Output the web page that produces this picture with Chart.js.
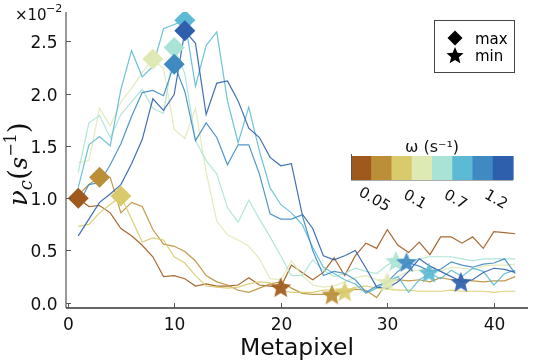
<!DOCTYPE html>
<html>
<head>
<meta charset="utf-8">
<script src="https://cdn.jsdelivr.net/npm/chart.js"></script>
<style>
  html, body { margin: 0; padding: 0; background: #fff; }
  #wrap { width: 540px; height: 360px; }
</style>
</head>
<body>
<div id="wrap"><canvas id="plot" width="540" height="360"></canvas></div>
<script>
// metapixel index (x) shared by all series
const metapixels = [1, 2, 3, 4, 5, 6, 7, 8, 9, 10, 11, 12, 13, 14, 15, 16, 17, 18, 19, 20, 21,
    22, 23, 24, 25, 26, 27, 28, 29, 30, 31, 32, 33, 34, 35, 36, 37, 38, 39, 40, 41, 42];

// nu_c in units of 1e-2 s^-1, one list per omega bin (slow -> fast)
const nuBrown = [1.00, 0.92, 0.93, 0.86, 0.71, 0.64, 0.55, 0.44, 0.25, 0.26, 0.23, 0.16, 0.18, 0.16, 0.16, 0.17, 0.24, 0.17, 0.16, 0.15, 0.36,
    0.29, 0.22, 0.29, 0.43, 0.26, 0.45, 0.57, 0.52, 0.70, 0.55, 0.48, 0.58, 0.46, 0.63, 0.63, 0.57, 0.63, 0.52, 0.68, 0.67, 0.66];
const nuTan = [1.03, 1.13, 1.20, 1.20, 0.86, 0.96, 0.92, 0.70, 0.56, 0.54, 0.49, 0.40, 0.26, 0.20, 0.17, 0.12, 0.10, 0.14, 0.18, 0.20, 0.14,
    0.09, 0.08, 0.08, 0.08, 0.10, 0.13, 0.12, 0.05, 0.20, 0.22, 0.21, 0.22, 0.20, 0.24, 0.22, 0.22, 0.21, 0.20, 0.21, 0.21, 0.25];
const nuYellow = [0.73, 0.75, 0.86, 0.94, 1.02, 0.80, 0.58, 0.62, 0.60, 0.44, 0.38, 0.26, 0.16, 0.15, 0.14, 0.15, 0.18, 0.20, 0.19, 0.12, 0.10,
    0.10, 0.10, 0.12, 0.12, 0.11, 0.15, 0.16, 0.14, 0.13, 0.12, 0.12, 0.11, 0.11, 0.11, 0.12, 0.11, 0.11, 0.11, 0.10, 0.11, 0.11];
const nuPale = [1.34, 1.36, 1.86, 1.69, 1.92, 2.05, 2.20, 2.33, 2.24, 1.66, 1.57, 1.86, 1.25, 0.78, 0.65, 0.60, 0.54, 0.42, 0.23, 0.22, 0.40,
    0.26, 0.17, 0.15, 0.16, 0.20, 0.24, 0.26, 0.22, 0.20, 0.25, 0.30, 0.31, 0.33, 0.30, 0.34, 0.33, 0.32, 0.35, 0.36, 0.36, 0.37];
const nuMint = [1.25, 1.72, 1.79, 1.58, 1.80, 1.92, 2.04, 1.86, 1.81, 2.44, 2.19, 1.55, 1.36, 1.23, 0.91, 0.77, 0.98, 0.80, 0.63, 0.45, 0.26,
    0.26, 0.41, 0.31, 0.25, 0.28, 0.33, 0.30, 0.28, 0.36, 0.42, 0.40, 0.42, 0.44, 0.44, 0.44, 0.42, 0.40, 0.42, 0.42, 0.42, 0.42];
const nuSky = [1.10, 1.51, 1.59, 1.50, 2.04, 2.41, 2.16, 2.26, 2.62, 2.66, 2.70, 2.07, 2.46, 2.59, 1.93, 1.53, 1.87, 1.45, 1.10, 0.94, 0.86,
    0.75, 0.53, 0.34, 0.28, 0.22, 0.18, 0.09, 0.14, 0.20, 0.25, 0.10, 0.22, 0.28, 0.23, 0.31, 0.25, 0.33, 0.30, 0.17, 0.28, 0.31];
const nuBlue = [0.94, 1.13, 1.15, 1.32, 1.52, 1.78, 2.01, 2.03, 1.98, 2.28, 2.02, 1.55, 1.72, 1.58, 1.32, 1.51, 1.51, 1.23, 0.85, 0.80, 0.80,
    0.84, 0.50, 0.26, 0.30, 0.28, 0.22, 0.10, 0.16, 0.20, 0.30, 0.38, 0.35, 0.30, 0.32, 0.39, 0.36, 0.34, 0.37, 0.38, 0.42, 0.28];
const nuNavy = [0.64, 0.80, 0.96, 1.04, 1.13, 1.33, 1.56, 1.95, 1.84, 1.99, 2.60, 2.48, 1.80, 2.10, 2.12, 1.93, 1.67, 1.58, 1.39, 1.31, 1.33,
    0.85, 0.71, 0.45, 0.41, 0.45, 0.50, 0.33, 0.15, 0.14, 0.20, 0.30, 0.42, 0.35, 0.30, 0.25, 0.20, 0.22, 0.29, 0.33, 0.32, 0.29];

// max / min markers per series
const maxX = [1, 3, 5, 8, 10, 11, 10, 11];
const maxY = [1.00, 1.20, 1.02, 2.33, 2.44, 2.70, 2.28, 2.60];
const minX = [20, 24.8, 26, 30, 30.8, 33.9, 31.8, 36.9];
const minY = [0.15, 0.08, 0.11, 0.20, 0.40, 0.29, 0.39, 0.20];

const xTicks = [0, 10, 20, 30, 40];
const yTicks = [0, 0.5, 1.0, 1.5, 2.0, 2.5];
const omegaTickLabels = ["0.05", "0.1", "0.7", "1.2"];

const colors = ["#A0591C", "#BA8F37", "#D9CB6B", "#DFE9B4", "#A9E3D5", "#5DBAD4", "#3F8AC3", "#2E5FAD"];
const series = [nuBrown, nuTan, nuYellow, nuPale, nuMint, nuSky, nuBlue, nuNavy];

function starImage(color, r) {
    const c = document.createElement("canvas");
    const s = Math.ceil(r * 2 + 2);
    c.width = s; c.height = s;
    const g = c.getContext("2d");
    g.fillStyle = color;
    g.beginPath();
    for (let k = 0; k < 10; k++) {
        const rr = k % 2 ? r * 0.45 : r;
        const a = -Math.PI / 2 + k * Math.PI / 5;
        g.lineTo(s / 2 + rr * Math.cos(a), s / 2 + 1 + rr * Math.sin(a));
    }
    g.closePath();
    g.fill();
    return c;
}

function withAlpha(hex, a) {
    const n = parseInt(hex.slice(1), 16);
    return `rgba(${n >> 16},${(n >> 8) & 255},${n & 255},${a})`;
}

const lineSets = series.map((vals, i) => ({
    type: "line",
    data: vals.map((v, k) => ({ x: metapixels[k], y: v })),
    borderColor: withAlpha(colors[i], 0.9),
    borderWidth: 1.2,
    pointRadius: 0,
    tension: 0,
    order: 10 - i,
}));

const diamondSet = {
    type: "scatter",
    data: maxX.map((x, i) => ({ x: x, y: maxY[i] })),
    pointStyle: "rectRot",
    pointRadius: 10.5,
    pointBackgroundColor: colors,
    pointBorderWidth: 0,
    borderWidth: 0,
    order: 0,
};

const starSet = {
    type: "scatter",
    data: minX.map((x, i) => ({ x: x, y: minY[i] })),
    pointStyle: colors.map(c => starImage(withAlpha(c, 0.92), 11)),
    pointRadius: 11,
    order: 0,
};

const decor = {
    id: "decor",
    afterDraw(chart) {
        const ctx = chart.ctx;
        const a = chart.chartArea;
        const xs = chart.scales.x, ys = chart.scales.y;
        ctx.save();

        // spines
        ctx.lineWidth = 1.5;
        ctx.strokeStyle = "#777";
        ctx.beginPath(); ctx.moveTo(a.left, a.top); ctx.lineTo(a.left, a.bottom); ctx.stroke();
        ctx.strokeStyle = "#333";
        ctx.beginPath(); ctx.moveTo(a.left, a.bottom); ctx.lineTo(a.right, a.bottom); ctx.stroke();

        // inward ticks + tick labels
        ctx.lineWidth = 1;
        ctx.strokeStyle = "#555";
        ctx.fillStyle = "#111";
        ctx.font = '17px "DejaVu Sans"';
        ctx.textBaseline = "alphabetic";
        ctx.textAlign = "center";
        xTicks.forEach(v => {
            const px = Math.round(xs.getPixelForValue(v)) + 0.5;
            ctx.beginPath(); ctx.moveTo(px, a.bottom); ctx.lineTo(px, a.bottom - 5); ctx.stroke();
            ctx.fillText(String(v), px, 329.5);
        });
        ctx.textAlign = "right";
        yTicks.forEach(v => {
            const py = Math.round(ys.getPixelForValue(v)) + 0.5;
            ctx.beginPath(); ctx.moveTo(a.left, py); ctx.lineTo(a.left + 5, py); ctx.stroke();
            ctx.fillText(v.toFixed(1), 57.5, py + 6.5);
        });

        // exponent
        ctx.textAlign = "left";
        ctx.font = '15px "DejaVu Sans"';
        ctx.fillText("×10", 15, 20);
        ctx.font = '11px "DejaVu Sans"';
        ctx.fillText("−2", 46, 12);

        // y title
        const parts = [
            { t: "ν", f: 'italic 26px "DejaVu Serif"', dy: 0 },
            { t: "c", f: 'italic 18px "DejaVu Serif"', dy: 5 },
            { t: "(", f: '28px "DejaVu Serif"', dy: 1 },
            { t: "s", f: 'italic 24px "DejaVu Serif"', dy: 0 },
            { t: "−1", f: '16px "DejaVu Serif"', dy: -11 },
            { t: ")", f: '28px "DejaVu Serif"', dy: 1 },
        ];
        ctx.save();
        ctx.translate(27, 206);
        ctx.rotate(-Math.PI / 2);
        let tx = 0;
        parts.forEach(p => {
            ctx.font = p.f;
            ctx.fillText(p.t, tx, p.dy);
            tx += ctx.measureText(p.t).width;
        });
        ctx.restore();

        // x title
        ctx.textAlign = "center";
        ctx.font = '23.5px "DejaVu Sans"';
        ctx.fillText("Metapixel", (a.left + a.right) / 2, 355);

        // legend box
        ctx.lineWidth = 1;
        ctx.strokeStyle = "#444";
        ctx.strokeRect(434.5, 20.5, 80, 52);
        ctx.fillStyle = "#000";
        ctx.beginPath();
        ctx.moveTo(455, 30.5); ctx.lineTo(462.5, 38); ctx.lineTo(455, 45.5); ctx.lineTo(447.5, 38);
        ctx.closePath(); ctx.fill();
        ctx.drawImage(starImage("#000", 9), 455 - 10, 55 - 10);
        ctx.textAlign = "left";
        ctx.font = '15px "DejaVu Sans"';
        ctx.fillText("max", 475, 44);
        ctx.fillText("min", 475, 61);

        // colorbar
        const cbX = 351, cbY = 156, cbW = 162, cbH = 24;
        const cw = cbW / colors.length;
        colors.forEach((c, i) => {
            ctx.fillStyle = c;
            ctx.fillRect(cbX + i * cw, cbY, cw + 0.6, cbH);
        });
        ctx.strokeStyle = "#555";
        ctx.beginPath(); ctx.moveTo(cbX + 0.5, cbY - 2); ctx.lineTo(cbX + 0.5, cbY + cbH); ctx.stroke();
        ctx.strokeStyle = "#aaa";
        ctx.beginPath(); ctx.moveTo(cbX, cbY + cbH + 0.5); ctx.lineTo(cbX + cbW, cbY + cbH + 0.5); ctx.stroke();
        ctx.fillStyle = "#111";
        ctx.textAlign = "center";
        ctx.font = '16px "DejaVu Sans"';
        ctx.fillText("ω (s⁻¹)", cbX + cbW / 2, 152);
        ctx.font = '15px "DejaVu Sans"';
        ctx.textBaseline = "middle";
        omegaTickLabels.forEach((lab, k) => {
            const bx = cbX + (2 * k + 1) * cw;
            ctx.save();
            ctx.translate(bx + 3, 200);
            ctx.rotate(Math.PI / 6);
            ctx.fillText(lab, 0, 0);
            ctx.restore();
        });

        ctx.restore();
    }
};

new Chart(document.getElementById("plot"), {
    data: { datasets: [...lineSets, diamondSet, starSet] },
    options: {
        responsive: false,
        animation: false,
        devicePixelRatio: 1,
        layout: { padding: { top: 10, right: 10, left: 0, bottom: 0 } },
        plugins: { legend: { display: false }, tooltip: { enabled: false } },
        scales: {
            x: {
                type: "linear",
                min: -0.15,
                max: 43.2,
                grid: { display: false, drawTicks: false },
                border: { display: false },
                ticks: { display: false },
                afterBuildTicks: s => { s.ticks = xTicks.map(v => ({ value: v })); },
                afterFit: s => { s.height = 52; },
            },
            y: {
                type: "linear",
                min: -0.05,
                max: 2.78,
                grid: { display: false, drawTicks: false },
                border: { display: false },
                ticks: { display: false },
                afterBuildTicks: s => { s.ticks = yTicks.map(v => ({ value: v })); },
                afterFit: s => { s.width = 66; },
            },
        },
    },
    plugins: [decor],
});
</script>
</body>
</html>
